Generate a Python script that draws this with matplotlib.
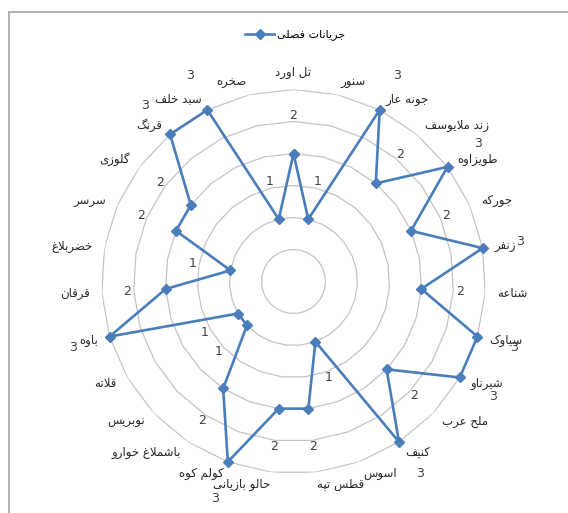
import numpy as np
import matplotlib
matplotlib.use("Agg")
import matplotlib.pyplot as plt
from matplotlib.lines import Line2D

# categories clockwise from the top
categories = [
    "تل اورد", "سنور", "جونه عار", "زند ملایوسف", "طویزاوه", "جورکه", "زنفر",
    "شناعه", "سیاوک", "شیرناو", "ملح عرب", "کنیف", "اسوس", "قطس تپه",
    "حالو بازیانی", "کولم کوه", "باشملاغ خوارو", "نوبریس", "قلاته", "باوه",
    "قرقان", "خضربلاغ", "سرسر", "گلوزی", "قرنگ", "سبد خلف", "صخره",
]
values = [2, 1, 3, 2, 3, 2, 3, 2, 3, 3, 2, 3, 1, 2, 2, 3, 2, 1, 1, 3, 2, 1, 2, 2, 3, 3, 1]
series_name = "جریانات فصلی"
grid_levels = [0.5, 1.0, 1.5, 2.0, 2.5, 3.0]

# presentation forms: isolated, final, initial, medial (None = no left join)
FORMS = {
    "ا": ("\uFE8D", "\uFE8E", None, None),
    "ب": ("\uFE8F", "\uFE90", "\uFE91", "\uFE92"),
    "ت": ("\uFE95", "\uFE96", "\uFE97", "\uFE98"),
    "ج": ("\uFE9D", "\uFE9E", "\uFE9F", "\uFEA0"),
    "ح": ("\uFEA1", "\uFEA2", "\uFEA3", "\uFEA4"),
    "خ": ("\uFEA5", "\uFEA6", "\uFEA7", "\uFEA8"),
    "د": ("\uFEA9", "\uFEAA", None, None),
    "ر": ("\uFEAD", "\uFEAE", None, None),
    "ز": ("\uFEAF", "\uFEB0", None, None),
    "س": ("\uFEB1", "\uFEB2", "\uFEB3", "\uFEB4"),
    "ش": ("\uFEB5", "\uFEB6", "\uFEB7", "\uFEB8"),
    "ص": ("\uFEB9", "\uFEBA", "\uFEBB", "\uFEBC"),
    "ض": ("\uFEBD", "\uFEBE", "\uFEBF", "\uFEC0"),
    "ط": ("\uFEC1", "\uFEC2", "\uFEC3", "\uFEC4"),
    "ع": ("\uFEC9", "\uFECA", "\uFECB", "\uFECC"),
    "غ": ("\uFECD", "\uFECE", "\uFECF", "\uFED0"),
    "ف": ("\uFED1", "\uFED2", "\uFED3", "\uFED4"),
    "ق": ("\uFED5", "\uFED6", "\uFED7", "\uFED8"),
    "ل": ("\uFEDD", "\uFEDE", "\uFEDF", "\uFEE0"),
    "م": ("\uFEE1", "\uFEE2", "\uFEE3", "\uFEE4"),
    "ن": ("\uFEE5", "\uFEE6", "\uFEE7", "\uFEE8"),
    "ه": ("\uFEE9", "\uFEEA", "\uFEEB", "\uFEEC"),
    "و": ("\uFEED", "\uFEEE", None, None),
    "پ": ("\uFB56", "\uFB57", "\uFB58", "\uFB59"),
    "ک": ("\uFB8E", "\uFB8F", "\uFB90", "\uFB91"),
    "گ": ("\uFB92", "\uFB93", "\uFB94", "\uFB95"),
    "ی": ("\uFBFC", "\uFBFD", "\uFBFE", "\uFBFF"),
}


def rtl(text):
    # minimal arabic-script shaping + reversal for display
    ch = list(text)
    n = len(ch)
    out = []
    i = 0
    while i < n:
        c = ch[i]
        if c not in FORMS:
            out.append(c)
            i += 1
            continue
        prev_joins = i > 0 and ch[i-1] in FORMS and FORMS[ch[i-1]][2] is not None
        if c == "ل" and i + 1 < n and ch[i+1] == "ا":
            out.append("\uFEFC" if prev_joins else "\uFEFB")
            i += 2
            continue
        iso, fin, ini, med = FORMS[c]
        next_joins = ini is not None and i + 1 < n and ch[i+1] in FORMS
        if prev_joins and next_joins:
            out.append(med)
        elif prev_joins:
            out.append(fin)
        elif next_joins:
            out.append(ini)
        else:
            out.append(iso)
        i += 1
    return "".join(reversed(out))


plt.rcParams["font.family"] = ["DejaVu Sans"]

W, H = 568, 513
fig = plt.figure(figsize=(W / 100, H / 100), dpi=100)

# center (293.5, 281.5) px, radius 192 px for value 3
cx, cy, R = 293.5, 281.5, 192
ax = fig.add_axes([(cx - R) / W, (H - cy - R) / H, 2 * R / W, 2 * R / H], projection="polar")
ax.set_theta_zero_location("N")
ax.set_theta_direction(-1)
ax.set_ylim(0, 3)
ax.grid(False)
ax.set_xticks([])
ax.set_yticks([])
ax.spines["polar"].set_visible(False)
ax.patch.set_alpha(0)

n = len(categories)
theta = np.arange(n) * 2 * np.pi / n
closed = np.append(theta, theta[0])

for lvl in grid_levels:
    ax.plot(closed, [lvl] * (n + 1), color="#C4C4C4", lw=0.9, zorder=1)

vals = np.array(values, dtype=float)
ax.plot(closed, np.append(vals, vals[0]), color="#4A7EBB", lw=1.9,
        marker="D", markersize=5.5, markerfacecolor="#4A7EBB",
        markeredgecolor="#4A7EBB", zorder=3, clip_on=False)

# data labels, pushed outward along the spoke
for t, v in zip(theta, vals):
    ax.text(t, v + 0.6, "%d" % v, ha="center", va="center",
            fontsize=9, color="#404040", zorder=4)

# category names outside the outer ring
for t, name in zip(theta, categories):
    s = np.sin(t)
    if abs(s) < 1e-6:
        ha = "center"
        r = 3.27
    else:
        ha = "left" if s > 0 else "right"
        r = 3.19
    ax.text(t, r, rtl(name), ha=ha, va="center", fontsize=8.5, color="#262626")

handle = Line2D([], [], color="#4A7EBB", lw=1.9, marker="D", markersize=5.5)
fig.legend([handle], [rtl(series_name)], loc="center", bbox_to_anchor=(0.52, 1 - 35 / H),
           frameon=False, fontsize=8, handlelength=2.6, handletextpad=0.3)

# chart frame (only top and left edges fall inside the crop)
fig.add_artist(Line2D([9 / W, 9 / W], [0, 1 - 12 / H], transform=fig.transFigure,
                      color="#A6A6A6", lw=1.2))
fig.add_artist(Line2D([9 / W, 1], [1 - 12 / H, 1 - 12 / H], transform=fig.transFigure,
                      color="#A6A6A6", lw=1.2))

fig.savefig("out.png", dpi=100, facecolor="white")
